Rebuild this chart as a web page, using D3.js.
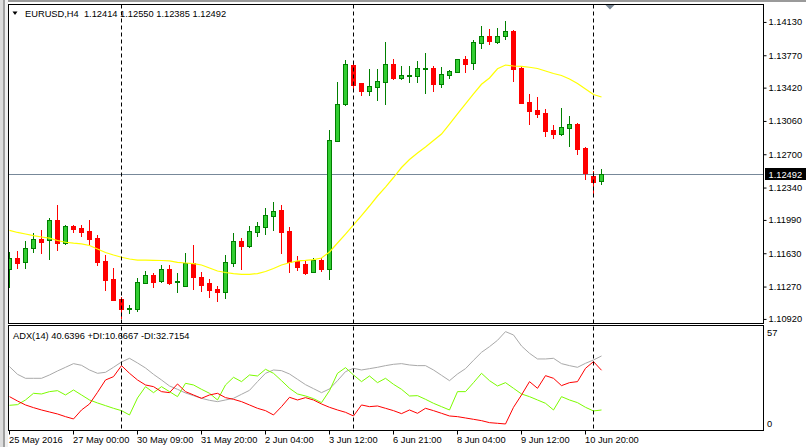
<!DOCTYPE html>
<html><head><meta charset="utf-8">
<script src="https://cdn.jsdelivr.net/npm/d3@7"></script>
<style>
html,body{margin:0;padding:0;background:#fff;overflow:hidden}
svg{display:block}
text{font-family:"Liberation Sans",Arial,sans-serif;font-size:9.3px;fill:#000}
</style>
</head><body>
<svg id="c" width="806" height="447"></svg>
<script>
const symbolTitle = "EURUSD,H4  1.12414 1.12550 1.12385 1.12492";
const adxTitle = "ADX(14) 40.6396 +DI:10.6667 -DI:32.7154";
const lastPrice = 1.12492;

const open = [
1.11462,1.11581,1.11537,1.11689,1.11789,1.11775,1.11995,1.11743,1.11930,1.11905,
1.11876,1.11797,1.11552,1.11357,1.11141,1.11036,1.11036,1.11317,1.11397,1.11339,
1.11462,1.11325,1.11285,1.11527,1.11375,1.11310,1.11249,1.11220,1.11533,1.11768,
1.11717,1.11868,1.11922,1.12041,1.12103,1.11876,1.11555,1.11519,1.11429,1.11562,
1.11468,1.12852,1.13249,1.13670,1.13479,1.13392,1.13436,1.13490,1.13681,1.13533,
1.13555,1.13555,1.13630,1.13635,1.13465,1.13562,1.13598,1.13732,1.13689,1.13905,
1.13984,1.13922,1.13981,1.14038,1.13641,1.13270,1.13184,1.13148,1.12968,1.12924,
1.12993,1.13032,1.12776,1.12470,1.12414];
const high = [
1.11652,1.11660,1.11768,1.11854,1.11887,1.12016,1.12160,1.11941,1.11941,1.11941,
1.11995,1.11833,1.11616,1.11473,1.11162,1.11076,1.11364,1.11443,1.11418,1.11508,
1.11508,1.11418,1.11638,1.11724,1.11436,1.11354,1.11281,1.11616,1.11857,1.11797,
1.11930,1.11970,1.12121,1.12186,1.12157,1.11916,1.11606,1.11562,1.11581,1.11581,
1.12968,1.13490,1.13724,1.13689,1.13479,1.13624,1.13624,1.13922,1.13735,1.13659,
1.13659,1.13717,1.13803,1.13659,1.13645,1.13616,1.13732,1.13768,1.13941,1.14092,
1.14056,1.14067,1.14146,1.14049,1.13645,1.13357,1.13321,1.13195,1.13022,1.13202,
1.13119,1.13040,1.12780,1.12524,1.12550];
const low = [
1.11274,1.11479,1.11479,1.11652,1.11641,1.11573,1.11670,1.11735,1.11868,1.11825,
1.11724,1.11508,1.11238,1.11125,1.10932,1.10986,1.11014,1.11314,1.11274,1.11328,
1.11300,1.11213,1.11281,1.11246,1.11230,1.11166,1.11122,1.11148,1.11501,1.11465,
1.11706,1.11825,1.11843,1.11887,1.11641,1.11436,1.11454,1.11408,1.11429,1.11443,
1.11354,1.12852,1.13238,1.13400,1.13346,1.13346,1.13292,1.13249,1.13519,1.13519,
1.13490,1.13490,1.13371,1.13389,1.13436,1.13527,1.13598,1.13598,1.13627,1.13857,
1.13897,1.13905,1.13948,1.13501,1.13263,1.13032,1.13111,1.12903,1.12884,1.12914,
1.12795,1.12708,1.12438,1.12290,1.12385];
const close = [
1.11581,1.11533,1.11689,1.11786,1.11760,1.11995,1.11743,1.11930,1.11897,1.11868,
1.11789,1.11544,1.11349,1.11133,1.11036,1.11043,1.11321,1.11397,1.11328,1.11462,
1.11317,1.11339,1.11527,1.11375,1.11292,1.11238,1.11220,1.11537,1.11768,1.11717,
1.11876,1.11930,1.12049,1.12092,1.11868,1.11544,1.11490,1.11425,1.11562,1.11465,
1.12860,1.13249,1.13681,1.13454,1.13392,1.13443,1.13497,1.13681,1.13527,1.13562,
1.13559,1.13635,1.13635,1.13465,1.13570,1.13609,1.13732,1.13681,1.13916,1.13984,
1.13933,1.13984,1.14038,1.13627,1.13263,1.13176,1.13141,1.12960,1.12924,1.12997,
1.13032,1.12762,1.12500,1.12410,1.12492];
const ma = [
1.11883,1.11860,1.11843,1.11825,1.11811,1.11798,1.11773,1.11754,1.11744,1.11736,
1.11719,1.11681,1.11643,1.11616,1.11592,1.11573,1.11562,1.11560,1.11558,1.11557,
1.11552,1.11537,1.11530,1.11524,1.11508,1.11476,1.11443,1.11427,1.11416,1.11408,
1.11408,1.11416,1.11438,1.11470,1.11508,1.11533,1.11552,1.11558,1.11566,1.11584,
1.11649,1.11746,1.11843,1.11941,1.12043,1.12146,1.12254,1.12351,1.12454,1.12562,
1.12649,1.12719,1.12784,1.12854,1.12924,1.13032,1.13141,1.13249,1.13357,1.13462,
1.13530,1.13629,1.13670,1.13659,1.13656,1.13646,1.13632,1.13605,1.13578,1.13557,
1.13519,1.13470,1.13411,1.13351,1.13324];
const adx = [
34.72,30.46,28.25,28.25,28.25,30.10,32.32,34.35,36.39,35.46,
32.87,31.02,31.58,34.35,37.31,39.35,36.76,33.98,30.46,27.32,
23.99,22.14,20.11,18.62,17.15,16.04,15.30,16.22,17.15,19.37,
21.58,26.40,31.02,32.87,32.50,30.65,27.69,24.73,22.51,20.29,
22.33,26.95,31.95,33.80,32.87,33.61,34.35,35.28,36.02,36.39,
35.65,35.28,35.28,32.87,29.91,26.95,30.65,33.61,38.24,42.67,
45.82,49.34,54.15,52.30,46.19,42.12,38.98,38.98,39.35,36.39,
35.28,34.35,36.57,38.42,40.64];
const plusDI = [
13.26,13.63,16.22,19.92,19.55,20.85,21.40,19.00,21.77,19.00,
16.22,14.56,13.08,11.60,10.30,7.90,17.33,23.62,20.29,23.62,
20.85,18.07,25.47,24.55,22.14,19.92,16.22,24.55,28.80,26.40,
30.10,29.54,33.24,31.02,26.95,22.70,19.55,18.44,16.96,14.74,
21.40,31.02,34.17,30.10,26.40,29.54,25.84,28.25,24.92,22.14,
18.44,18.62,16.59,14.37,12.52,10.67,20.85,20.85,25.84,31.02,
26.95,23.99,25.84,22.70,19.55,18.07,16.22,14.37,10.67,18.07,
16.22,14.74,12.15,10.12,10.67];
const minusDI = [
18.07,15.66,13.45,11.97,10.67,9.56,8.45,6.97,5.68,10.67,
14.00,20.47,27.32,29.17,35.28,31.02,27.32,24.55,23.62,20.85,
20.29,25.10,20.85,19.00,17.15,19.00,19.92,17.52,16.59,15.30,
13.45,11.60,10.30,7.90,12.52,17.70,16.22,17.52,16.22,14.00,
12.15,10.67,9.38,7.34,13.45,12.52,12.89,11.60,10.30,8.64,
10.67,8.82,11.60,10.30,8.82,7.34,6.97,6.23,5.49,4.75,
3.64,3.27,2.90,12.15,19.00,26.40,22.70,29.72,28.25,24.18,
25.84,26.40,33.80,37.50,32.72];

const priceTicks = [1.14130,1.13770,1.13420,1.13060,1.12700,1.12340,1.11990,1.11630,1.11270,1.10920];
const adxTicks = [57, 0];
const timeTickIdx = [0,8,16,24,32,40,48,56,64,72];
const timeLabels = ["25 May 2016","27 May 00:00","30 May 09:00","31 May 20:00","2 Jun 04:00","3 Jun 12:00","6 Jun 21:00","8 Jun 04:00","9 Jun 12:00","10 Jun 20:00"];
const vlineIdx = [14, 43, 73];

const L = 8.5, R = 763.5, mainT = 4.5, mainB = 323.5, indT = 325.5, indB = 430.5;
const n = open.length;
const x = d3.scaleLinear().domain([0, n - 1]).range([9.5, 9.5 + 8 * (n - 1)]);
const y = d3.scaleLinear().domain([1.10876, 1.14324]).range([mainB, mainT]);
const yi = d3.scaleLinear().domain([0, 57]).range([429.2, 326.5]);

const svg = d3.select("#c");
const defs = svg.append("defs");
defs.append("clipPath").attr("id","clipMain").append("rect")
  .attr("x", L + 0.5).attr("y", mainT + 0.5).attr("width", R - L - 1).attr("height", mainB - mainT - 1);
defs.append("clipPath").attr("id","clipInd").append("rect")
  .attr("x", L + 0.5).attr("y", indT + 0.5).attr("width", R - L - 1).attr("height", indB - indT - 1);

// window chrome
svg.append("rect").attr("x",0).attr("y",0).attr("width",806).attr("height",2).attr("fill","#9a9a9a");
svg.append("rect").attr("x",0).attr("y",0).attr("width",3).attr("height",447).attr("fill","#dcdcdc");
svg.append("rect").attr("x",3).attr("y",0).attr("width",2).attr("height",447).attr("fill","#a0a0a0");
svg.append("rect").attr("x",5).attr("y",0).attr("width",3).attr("height",447).attr("fill","#efefef");

// current price line
svg.append("line").attr("x1", L).attr("x2", R)
  .attr("y1", Math.round(y(lastPrice)) + 0.5).attr("y2", Math.round(y(lastPrice)) + 0.5)
  .attr("stroke", "#778899").attr("stroke-width", 1);

// candles
const gC = svg.append("g").attr("clip-path","url(#clipMain)");
const cand = gC.selectAll("g.candle").data(d3.range(n)).join("g").attr("class","candle");
cand.each(function(i){
  const g = d3.select(this);
  const cx = x(i);
  const bull = close[i] >= open[i];
  const hy = Math.round(y(high[i])), ly = Math.round(y(low[i]));
  const top = Math.round(y(Math.max(open[i], close[i])));
  const bot = Math.round(y(Math.min(open[i], close[i])));
  g.append("rect").attr("x", cx - 0.5).attr("y", hy).attr("width", 1).attr("height", ly - hy + 1)
    .attr("fill", bull ? "#007f00" : "#ff0000");
  if (bull) {
    g.append("rect").attr("x", cx - 2.5).attr("y", top).attr("width", 5).attr("height", bot - top + 1).attr("fill", "#007f00");
    if (bot - top - 1 > 0)
      g.append("rect").attr("x", cx - 1.5).attr("y", top + 1).attr("width", 3).attr("height", bot - top - 1).attr("fill", "#32cd32");
  } else {
    g.append("rect").attr("x", cx - 2.5).attr("y", top).attr("width", 5).attr("height", bot - top + 1).attr("fill", "#ff0000");
  }
});

// moving average
gC.append("path").datum(d3.range(n))
  .attr("d", d3.line().x(i => x(i)).y(i => y(ma[i])))
  .attr("fill","none").attr("stroke","#ffff00").attr("stroke-width",1.2);

// ADX lines
const gI = svg.append("g").attr("clip-path","url(#clipInd)");
[[adx,"#a9a9a9"],[plusDI,"#7cfc00"],[minusDI,"#ff0000"]].forEach(([arr,col]) => {
  gI.append("path").datum(d3.range(n))
    .attr("d", d3.line().x(i => x(i)).y(i => yi(arr[i])))
    .attr("fill","none").attr("stroke",col).attr("stroke-width",1);
});

// vertical dashed lines
svg.selectAll("line.vl").data(vlineIdx).join("line").attr("class","vl")
  .attr("x1", d => x(d)).attr("x2", d => x(d)).attr("y1", mainT).attr("y2", indB)
  .attr("stroke","#000").attr("stroke-width",1).attr("stroke-dasharray","4,3");

// panel borders
svg.append("rect").attr("x", L).attr("y", mainT).attr("width", R - L).attr("height", mainB - mainT)
  .attr("fill","none").attr("stroke","#000");
svg.append("rect").attr("x", L).attr("y", indT).attr("width", R - L).attr("height", indB - indT)
  .attr("fill","none").attr("stroke","#000");

const fontFam = '"Liberation Sans",Arial,sans-serif';

// price axis
svg.append("g").attr("transform", `translate(${R},0)`)
  .call(d3.axisRight(y).tickValues(priceTicks).tickFormat(d3.format(".5f")).tickSize(3).tickPadding(2).offset(0))
  .call(g => g.select(".domain").remove())
  .call(g => g.attr("font-size", 9.3).attr("font-family", fontFam))
  .call(g => g.selectAll("line").attr("stroke","#000"))
  .call(g => g.selectAll("text").attr("fill","#000"));

// current price label
const py = Math.round(y(lastPrice));
svg.append("rect").attr("x", 765).attr("y", py - 6).attr("width", 41).attr("height", 12).attr("fill","#000");
svg.append("text").attr("x", 768.5).attr("y", py + 3.5).style("fill","#fff").text(d3.format(".5f")(lastPrice));

// ADX axis
svg.append("g").attr("transform", `translate(${R},0)`)
  .call(d3.axisRight(yi).tickValues(adxTicks).tickFormat(d3.format("d")).tickSize(0).tickPadding(3.5).offset(0))
  .call(g => g.select(".domain").remove())
  .call(g => g.attr("font-size", 9.3).attr("font-family", fontFam))
  .call(g => g.selectAll("text").attr("fill","#000").attr("dy", d => d > 0 ? "1.05em" : "-0.22em"));

// time axis
svg.append("g").attr("transform", `translate(0,${indB})`)
  .call(d3.axisBottom(x).tickValues(timeTickIdx).tickFormat((d, i) => timeLabels[i]).tickSize(4).offset(0))
  .call(g => g.select(".domain").remove())
  .call(g => g.attr("font-size", 9.3).attr("font-family", fontFam))
  .call(g => g.selectAll("line").attr("stroke","#000"))
  .call(g => g.selectAll("text").attr("fill","#000").attr("text-anchor","start").attr("x",-0.5).attr("y",12).attr("dy",null));

// titles
svg.append("path").attr("d","M12.5,11.5 L17.5,11.5 L15,15 Z").attr("fill","#000");
svg.append("text").attr("x", 25).attr("y", 17).style("white-space","pre").text(symbolTitle);
svg.append("text").attr("x", 13).attr("y", 338.5).text(adxTitle);

// chart shift marker
svg.append("path").attr("d","M605.5,5 L614.5,5 L610,9.5 Z").attr("fill","#7a8896");
</script>
</body></html>
